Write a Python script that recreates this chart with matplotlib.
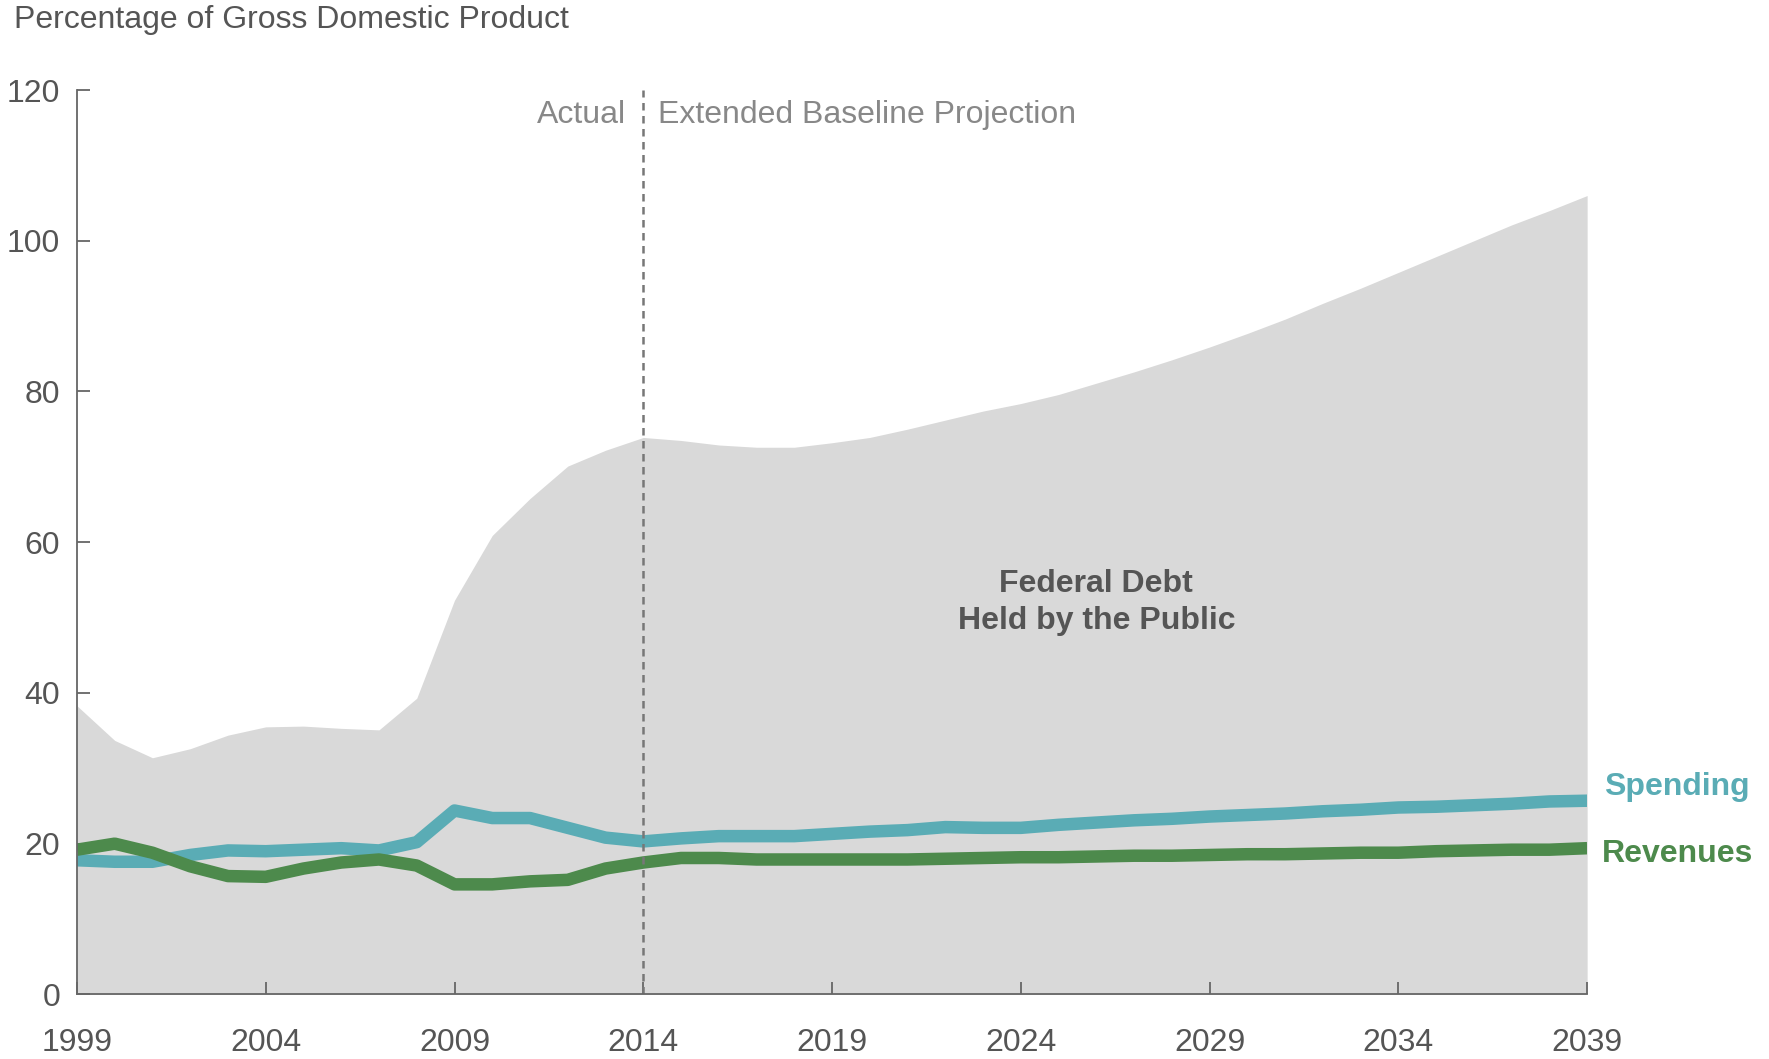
import numpy as np
import matplotlib.pyplot as plt

plt.rcParams['font.family'] = ['Liberation Sans', 'DejaVu Sans']

# data (percent of GDP)
years = np.arange(1999, 2040)
debt = [38.3, 33.7, 31.4, 32.6, 34.4, 35.5, 35.6, 35.3, 35.1, 39.3,
        52.3, 60.9, 65.8, 70.1, 72.2, 73.9, 73.5, 72.9, 72.6, 72.6,
        73.2, 73.9, 75.0, 76.2, 77.4, 78.4, 79.6, 81.1, 82.6, 84.2,
        85.9, 87.7, 89.6, 91.7, 93.7, 95.8, 97.9, 100.0, 102.1, 104.0,
        106.0]
spending = [17.8, 17.6, 17.6, 18.5, 19.1, 19.0, 19.2, 19.4, 19.1, 20.2,
            24.4, 23.4, 23.4, 22.1, 20.8, 20.3, 20.7, 21.0, 21.0, 21.0,
            21.3, 21.6, 21.8, 22.2, 22.1, 22.1, 22.5, 22.8, 23.1, 23.3,
            23.6, 23.8, 24.0, 24.3, 24.5, 24.8, 24.9, 25.1, 25.3, 25.6,
            25.7]
revenues = [19.2, 20.0, 18.8, 17.0, 15.7, 15.6, 16.7, 17.5, 17.9, 17.1,
            14.6, 14.6, 15.0, 15.2, 16.7, 17.5, 18.1, 18.1, 17.9, 17.9,
            17.9, 17.9, 17.9, 18.0, 18.1, 18.2, 18.2, 18.3, 18.4, 18.4,
            18.5, 18.6, 18.6, 18.7, 18.8, 18.8, 19.0, 19.1, 19.2, 19.2,
            19.4]
xticks = [1999, 2004, 2009, 2014, 2019, 2024, 2029, 2034, 2039]
yticks = [0, 20, 40, 60, 80, 100, 120]

spend_col = '#5aacb5'
rev_col = '#4d8a4c'
text_col = '#555555'
fs = 23

fig = plt.figure(figsize=(17.69, 10.59), dpi=100)
ax = fig.add_axes([0.0435, 0.061, 0.8537, 0.854])

ax.fill_between(years, 0, debt, color='#d9d9d9', lw=0)
ax.plot(years, spending, color=spend_col, lw=9, solid_capstyle='butt')
ax.plot(years, revenues, color=rev_col, lw=9, solid_capstyle='butt')
ax.plot([2014, 2014], [0, 120], color='#777777', lw=1.8, ls=(0, (3, 2.2)))

ax.set_xlim(1999, 2039)
ax.set_ylim(0, 120)
ax.set_xticks(xticks)
ax.set_yticks(yticks)
ax.tick_params(direction='in', length=9, width=1.3, colors='#666666',
               labelcolor=text_col, labelsize=fs)
ax.tick_params(axis='x', pad=24)
ax.tick_params(axis='y', pad=12)
for s in ['top', 'right']:
    ax.spines[s].set_visible(False)
for s in ['left', 'bottom']:
    ax.spines[s].set_color('#666666')
    ax.spines[s].set_linewidth(1.3)

ax.text(2013.55, 116.7, 'Actual', ha='right', va='center', fontsize=fs, color='#888888')
ax.text(2014.4, 116.7, 'Extended Baseline Projection', ha='left', va='center',
        fontsize=fs, color='#888888')
ax.text(2026.0, 52.0, 'Federal Debt\nHeld by the Public', ha='center', va='center',
        fontsize=fs, fontweight='bold', color=text_col, linespacing=1.3)
ax.text(2039.45, 27.5, 'Spending', ha='left', va='center', fontsize=fs,
        fontweight='bold', color=spend_col, clip_on=False)
ax.text(2039.4, 18.6, 'Revenues', ha='left', va='center', fontsize=fs,
        fontweight='bold', color=rev_col, clip_on=False)

fig.text(0.008, 0.981, 'Percentage of Gross Domestic Product', ha='left', va='center',
         fontsize=fs, color=text_col)

fig.savefig('out.png', dpi=100)
